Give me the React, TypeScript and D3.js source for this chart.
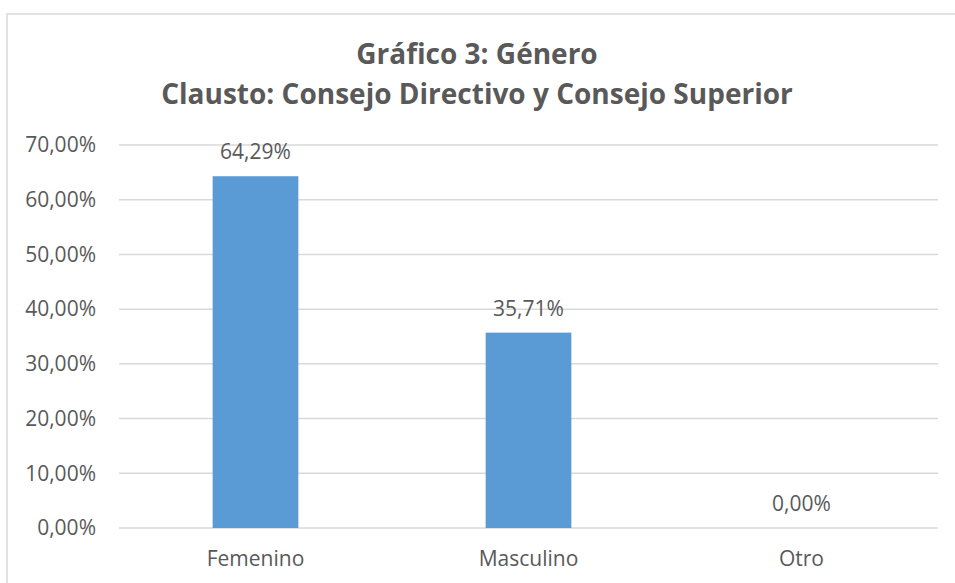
import React from "react";
import * as d3 from "d3";

const categories = ["Femenino", "Masculino", "Otro"];
const values = [64.29, 35.71, 0.0];
const yTicks = [0, 10, 20, 30, 40, 50, 60, 70];
const titleLines = ["Gráfico 3: Género", "Clausto: Consejo Directivo y Consejo Superior"];

const W = 955;
const H = 583;
const FONT = "'Open Sans', 'Liberation Sans', sans-serif";
const TEXT = "#595959";

const fmt = (v: number) => v.toFixed(2).replace(".", ",") + "%";

export default function App() {
  const left = 119, right = 938, top = 145, bottom = 528;
  const band = d3.scaleBand<string>().domain(categories).range([left, right]);
  const y = d3.scaleLinear().domain([0, 70]).range([bottom, top]);
  return (
    <svg width={W} height={H} style={{ position: "absolute", left: 0, top: 0, background: "#fff" }}>
      <rect x={7} y={14} width={1000} height={700} fill="#fff" stroke="#D9D9D9" strokeWidth={1.5} />
      {titleLines.map((t, i) => (
        <text key={i} x={477} y={64 + i * 40} textAnchor="middle" fontFamily={FONT} fontWeight={700} fontSize={28} fill={TEXT}>
          {t}
        </text>
      ))}
      {yTicks.map((t) => (
        <g key={t}>
          <line x1={left} x2={right} y1={y(t)} y2={y(t)} stroke="#D9D9D9" strokeWidth={1.5} />
          <text x={96} y={y(t)} dy="0.35em" textAnchor="end" fontFamily={FONT} fontSize={21} fill={TEXT}>
            {fmt(t)}
          </text>
        </g>
      ))}
      {categories.map((c, i) => {
        const cx = (band(c) as number) + band.bandwidth() / 2;
        const bw = band.bandwidth() * 0.314;
        return (
          <g key={c}>
            {values[i] > 0 && (
              <rect x={cx - bw / 2} y={y(values[i])} width={bw} height={y(0) - y(values[i])} fill="#5B9BD5" />
            )}
            <text x={cx} y={y(values[i]) - 17} textAnchor="middle" fontFamily={FONT} fontSize={21} fill={TEXT}>
              {fmt(values[i])}
            </text>
            <text x={cx} y={566} textAnchor="middle" fontFamily={FONT} fontSize={21} fill={TEXT}>
              {c}
            </text>
          </g>
        );
      })}
    </svg>
  );
}
